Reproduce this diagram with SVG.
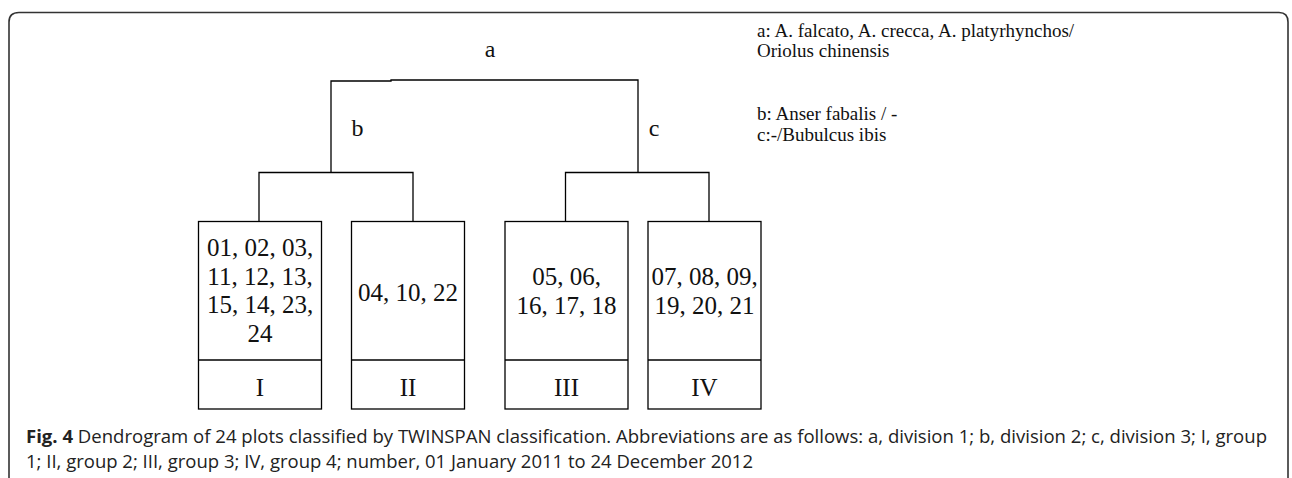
<svg xmlns="http://www.w3.org/2000/svg" width="1292" height="478" viewBox="0 0 1292 478">
<style>
.ln{fill:none;stroke:#000;stroke-width:1.3}
.bx{fill:#fff;stroke:#000;stroke-width:1.3}
.t{font-family:"Liberation Serif","Times New Roman",serif;fill:#111}
.num{font-size:25px;text-anchor:middle}
.lab{font-size:24px;text-anchor:middle}
.rom{font-size:25px;text-anchor:middle}
.leg{font-size:19px}
.cap{font-family:"Open Sans","Liberation Sans",sans-serif;font-size:18px;fill:#222}
</style>
<rect x="0" y="0" width="1292" height="478" fill="#fff"/>
<path d="M9,490 V22 Q9,12.5 19,12.5 H1279 Q1288,12.5 1288,22 V490" fill="none" stroke="#333" stroke-width="1.6"/>
<g id="connectors">
<path class="ln" d="M331,172.5 V81 H391 V80 H638 V172.5"/>
<path class="ln" d="M259,221.5 V172.5 H413 V221.5"/>
<path class="ln" d="M565.5,221.5 V172.5 H709 V221.5"/>
</g>
<g id="labels">
<text class="t lab" x="490" y="56.5">a</text>
<text class="t lab" x="357.5" y="136">b</text>
<text class="t lab" x="654" y="136">c</text>
</g>
<g id="legend" class="t leg">
<text x="757" y="37">a: A. falcato, A. crecca, A. platyrhynchos/</text>
<text x="757" y="57">Oriolus chinensis</text>
<text x="757" y="120">b: Anser fabalis / -</text>
<text x="757" y="141">c:-/Bubulcus ibis</text>
</g>
<g id="group1">
<rect class="bx" x="198.5" y="221.5" width="123" height="187.5"/>
<line class="ln" x1="198.5" y1="360" x2="321.5" y2="360"/>
<text class="t num" x="260" y="256">01, 02, 03,</text>
<text class="t num" x="260" y="284.5">11, 12, 13,</text>
<text class="t num" x="260" y="313">15, 14, 23,</text>
<text class="t num" x="260" y="341.5">24</text>
<text class="t rom" x="260" y="396">I</text>
</g>
<g id="group2">
<rect class="bx" x="351.5" y="221.5" width="113" height="187.5"/>
<line class="ln" x1="351.5" y1="360" x2="464.5" y2="360"/>
<text class="t num" x="408" y="301">04, 10, 22</text>
<text class="t rom" x="408" y="396">II</text>
</g>
<g id="group3">
<rect class="bx" x="505" y="221.5" width="123" height="187.5"/>
<line class="ln" x1="505" y1="360" x2="628" y2="360"/>
<text class="t num" x="566.5" y="285">05, 06,</text>
<text class="t num" x="566.5" y="314">16, 17, 18</text>
<text class="t rom" x="566.5" y="396">III</text>
</g>
<g id="group4">
<rect class="bx" x="648" y="221.5" width="113" height="187.5"/>
<line class="ln" x1="648" y1="360" x2="761" y2="360"/>
<text class="t num" x="704.5" y="285">07, 08, 09,</text>
<text class="t num" x="704.5" y="314">19, 20, 21</text>
<text class="t rom" x="704.5" y="396">IV</text>
</g>
<g id="caption" class="cap">
<text x="26" y="443" textLength="1241" lengthAdjust="spacingAndGlyphs"><tspan font-weight="bold">Fig. 4</tspan> Dendrogram of 24 plots classified by TWINSPAN classification. Abbreviations are as follows: a, division 1; b, division 2; c, division 3; I, group</text>
<text x="26" y="468" textLength="727" lengthAdjust="spacingAndGlyphs">1; II, group 2; III, group 3; IV, group 4; number, 01 January 2011 to 24 December 2012</text>
</g>
</svg>
